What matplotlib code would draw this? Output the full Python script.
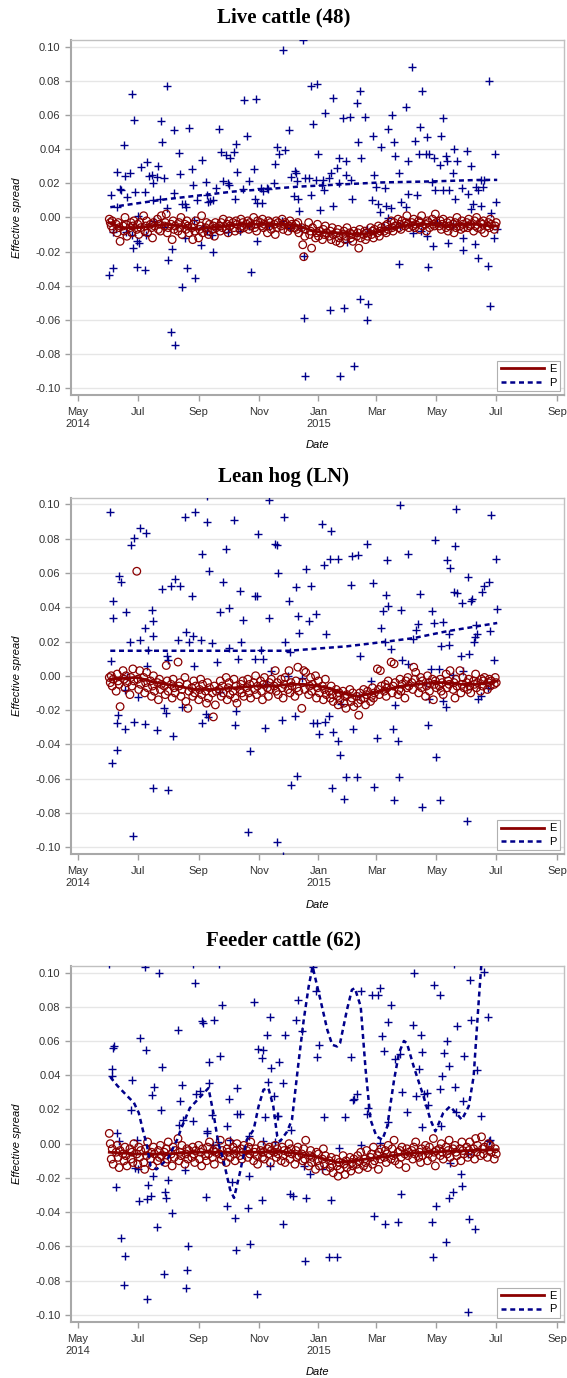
import numpy as np
import pandas as pd
import matplotlib
matplotlib.use('Agg')
import matplotlib.pyplot as plt

plt.rcParams['font.family'] = ['Liberation Sans', 'DejaVu Sans']
plt.rcParams['axes.unicode_minus'] = False

# ---- data (spreads in thousandths, P dates as days after 2014-05-01) ----
titles = ['Live cattle (48)', 'Lean hog (LN)', 'Feeder cattle (62)']

# E: one value per business day starting 2014-06-02
e1 = [-1,-3,-5,-2,-7,-4,-9,-3,-6,-14,-5,-8,0,-4,-11,-6,-3,-9,-5,-2,
      -7,-4,-10,-3,-6,1,-8,-5,-2,-9,-4,-6,-12,-3,-5,-1,-7,-4,-8,1,
      -5,-3,2,-9,-6,-4,-13,-2,-7,-5,-8,-3,-6,0,-10,-4,-7,-2,-5,-9,
      -6,-13,-4,-8,-2,-12,-7,-5,1,-9,-6,-3,-8,-10,-4,-7,-5,-11,-3,-6,
      -5,-8,-3,-6,-1,-7,-4,-9,-2,-5,-3,-6,-8,-2,-4,-7,-1,-5,-3,-6,
      -4,-2,-7,-3,-5,0,-6,-4,-8,-2,-3,-5,-1,-6,-4,-9,-2,-5,-3,-7,
      -4,-10,-2,-6,-3,-5,-1,-7,-4,-3,-8,-5,-2,-6,-4,-6,-4,-7,-3,-9,
      -6,-16,-23,-11,-7,-3,-10,-8,-18,-6,-12,-9,-4,-11,-8,-13,-7,-10,-5,-9,
      -11,-8,-13,-6,-10,-14,-9,-7,-12,-15,-10,-8,-13,-11,-6,-9,-12,-10,-14,-8,
      -11,-9,-18,-7,-12,-10,-8,-13,-9,-11,-6,-10,-8,-12,-7,-9,-5,-11,-8,-6,
      -8,-5,-9,-4,-7,-2,-6,-8,-3,-5,-1,-6,-4,-7,-2,-5,-3,1,-4,-6,
      -3,-5,-1,-6,-4,-2,-7,-3,1,-5,-4,-8,-2,-3,-6,-1,-4,-5,2,-3,
      -5,-2,-7,-4,-1,-6,-3,-8,-5,-2,-4,-9,-3,-6,0,-5,-7,-2,-4,-6,
      -3,-6,-1,-5,-4,-8,-2,-5,0,-6,-3,-7,-4,-2,-9,-5,-3,-6,-1,-4,-7,-5,-3]
e2 = [-1,-4,0,-6,-2,-9,1,-3,-5,-18,3,-2,-7,0,-4,-11,-1,-6,4,-3,
      61,-2,-8,3,-5,-1,-10,-4,2,-7,-3,-12,-6,0,-9,-4,-14,-2,-8,-5,
      -6,-11,6,-3,-9,-5,-13,-2,-7,-10,8,-6,-4,-12,-8,-1,-15,-5,-19,-9,
      -7,-12,-3,-10,-6,-14,-8,-2,-11,-5,-9,-16,-4,-13,-7,-10,-24,-6,-17,-9,
      -8,-3,-12,-6,-10,-1,-14,-7,-4,-11,-9,-2,-13,-6,-16,-8,-5,-10,-3,-12,
      -7,-2,-10,-5,-13,-4,-8,0,-11,-6,-3,-9,-14,-5,-1,-7,-12,-4,-8,-2,
      -6,3,-9,-4,-11,-2,-7,-13,-5,-1,-8,3,-10,-4,-6,-12,-3,-7,5,-9,
      -19,-4,3,-8,2,-11,-6,-1,-9,-5,0,-13,-7,-3,-10,-6,-14,-8,-2,-11,
      -9,-13,-6,-11,-15,-8,-12,-17,-10,-14,-9,-16,-12,-19,-11,-8,-15,-13,-10,-18,
      -12,-16,-23,-10,-14,-8,-13,-17,-11,-9,-15,-12,-7,-13,-10,4,-8,-11,3,-6,
      -9,-5,-12,-7,-3,8,-10,-6,7,-4,-11,-8,-2,-9,-5,-13,-3,-7,-1,-6,
      -4,-8,5,-2,2,-10,-5,-1,-7,-3,-12,-6,0,-4,-9,-2,-14,-5,-3,-7,
      -6,-2,-9,-4,-11,1,-7,-3,-5,3,-8,-4,-13,-2,-6,3,-10,-5,-1,-7,
      -4,-8,-2,-6,-10,-3,-5,1,-7,-4,-9,-2,-6,-3,-1,-8,-4,-2,-6,-3,-5,-1,-4]
e3 = [6,0,-9,-3,-12,-5,-1,-8,-14,-4,-6,-10,-2,-7,-13,-3,-9,-5,-11,0,
      -6,-12,-2,-8,-4,-11,-15,-3,-7,1,-9,-5,-13,-2,-6,-10,-4,-8,-1,-7,
      -5,-11,-3,-9,1,-6,-13,-2,-8,-4,3,-10,-5,-7,-1,-12,-6,-3,-9,-4,
      -8,-2,-6,-11,-4,-1,-9,-5,-13,-3,-7,-10,-2,-6,1,-8,-4,-12,-5,-3,
      -6,2,-9,-4,-7,-11,-3,-5,1,-8,-2,-6,-10,-4,0,-7,-3,-9,-5,-1,
      -4,-8,-2,-6,1,-10,-5,-3,-7,-12,-4,-1,-8,-5,-9,-3,-6,-2,-11,-4,
      -5,-1,-8,-3,-6,-10,-2,-7,-4,-11,-5,0,-9,-3,-6,-12,-4,-8,-2,-7,
      -6,-10,-3,-9,2,-13,-7,-4,-11,-8,-15,-5,-10,-6,-13,-9,-3,-12,-7,-16,
      -10,-14,-8,-12,-17,-9,-13,-19,-11,-15,-7,-12,-18,-10,-14,-8,-16,-11,-13,-9,
      -12,-7,-15,-10,-5,-13,-9,-11,-4,-14,-8,-6,-12,-2,-10,-7,-15,-5,-9,-3,
      -8,-4,-11,-6,-1,-9,-3,-7,2,-10,-5,-12,-4,-8,-2,-6,-14,-3,-7,-5,
      -4,-9,-2,-6,1,-8,-5,-11,-3,-7,-1,-4,-10,-6,-2,-8,3,-5,-13,-4,
      -3,-7,0,-5,-9,-2,-6,-4,2,-8,-3,-11,-1,-5,-7,-3,-10,1,-4,-6,
      -2,-8,-4,1,-6,-3,-9,3,-5,-1,-7,4,-3,-6,-2,-8,0,-4,-1,-5,-9,-3,-6]

# P: scattered points (day, value)
p1_day = [34,40,40,43,44,47,48,50,53,55,57,58,61,64,68,70,72,75,77,77,81,82,84,85,86,88,91,91,98,98,
          103,104,106,109,110,113,116,117,121,126,130,131,133,135,138,141,144,146,148,151,153,154,155,159,160,161,162,168,169,172,
          174,179,181,180,182,186,189,188,193,194,200,201,203,205,209,211,215,217,220,221,222,223,224,225,
          229,237,243,239,245,252,260,270,277,284,287,285,288,292,301,309,316,320,322,323,327,334,336,340,343,348,350,347,354,358,
          356,363,370,372,369,376,375,382,383,386,396,400,411,414,419,425,
          231,235,242,237,247,250,249,251,256,258,260,264,266,266,273,273,278,279,300,302,304,306,308,313,314,319,316,329,334,336,
          345,361,364,372,378,384,391,397,400,405,407,413,402,410,421,426,
          32,36,36,49,56,55,60,62,60,68,69,78,88,92,96,95,99,106,109,111,118,119,125,127,131,137,138,141,153,165,
          174,176,182,195,208,216,227,230,230,231,257,271,267,274,281,287,294,295,294,312,327,328,341,349,355,357,362,366,377,382,
          392,392,404,407,418,420,424,427]
p1_val = [12.9,6.4,26.7,16.6,16,42.6,24,11.7,26,72.6,57,15.2,1,29.3,15.2,32.4,24.4,25,20.3,10.3,23.8,30,10.7,56.4,44.1,23,77,5.5,14.6,51.3,
          37.5,25.6,8,7.8,6.4,52.5,28.1,19.1,10.3,33.5,20.5,13.3,9,9.8,10.3,17,51.7,38.6,21.3,36.7,20.1,19.3,34.9,38.6,10.7,43,26.7,16.6,68.9,47.8,
          21.5,28.3,69.3,10.7,8.2,17,15.6,8.2,17,16.6,20.1,31.2,41.2,37.1,98,39.6,51.3,23.8,12.5,27.1,26.3,21.5,10.7,3.5,
          104,77,78,55,37,61,70,58,59,67,74,44,35,59,48,41,52,60,44,36,26,65,33,88,45,53,74,37,37,37,
          47,35,48,58,31,33,36,26,40,33,39,30,22,22,80,37,
          23,23,22,13,4.5,22,19,16,23,26,7,29,35,20,33,25,22,11,10,25,18,8,3,17,7,5.5,-0.4,9,6,14,
          13,21,16,16,16,11,17,14,5,18,16,18,8,7,2.5,9,
          -33.5,-29.6,-8.8,-8.6,-18,-10,-14,-15,-29,-31,-10.5,-2,-5.6,-25,-18.5,-67,-74.5,-41,-12,-29.6,-1.4,-35.5,-16.4,-5.6,-8,-10.5,-20.5,-6.6,-8.8,-8,
          -4.9,-32,-14,-5,-2.3,-6.2,-6.2,-22.8,-59,-93,-54,-53,-93,-14.6,-87,-48,-6.8,-51,-60,-5.8,-27,-5.3,-9,-8,-10.7,-29,-17,-3,-15,-4.3,
          -12,-19,-15.6,-23.8,-28.7,-52,-12,-7]

p2_day = [33,34,36,36,42,44,49,53,54,57,63,63,69,68,75,76,77,71,70,86,91,92,95,99,104,102,109,110,113,116,
          117,119,118,125,126,131,132,134,137,142,145,148,151,154,154,159,165,163,166,168,180,182,180,189,183,186,195,195,197,201,
          203,204,210,211,215,216,222,224,225,
          232,235,237,242,249,251,253,257,265,258,278,279,285,287,294,301,309,311,314,315,316,313,319,328,329,330,336,336,341,344,
          346,348,361,363,364,368,360,370,378,372,376,379,378,383,386,384,385,390,391,392,397,398,400,401,403,404,406,405,412,414,
          419,420,421,424,426,427,
          35,40,40,41,48,48,50,56,57,61,68,77,81,88,90,92,97,106,126,130,133,145,160,161,173,175,191,193,203,208,
          209,214,217,221,223,228,239,244,252,246,256,259,260,265,267,268,271,273,284,280,286,298,302,305,321,323,322,326,327,350,
          354,357,358,365,369,372,375,382,396,407,410,418]
p2_val = [95.7,8.4,43.5,34,58.5,55,37,19.5,76.6,80.5,20.7,86.4,83.5,28,38.6,32,23,15,5.5,50.7,11.3,9.4,52.6,56.7,52.6,21,92.8,25.3,19.5,46.4,
          23.4,95.7,5.5,21,70.8,105,89.7,61,19,7.8,37,54.6,74,39.6,16,91,49.3,10,19.5,32.7,46.4,46.4,10,10,83,14.8,102.5,34,3,77,
          76.6,60,92.8,20,43.9,14,52,35,25,
          62.6,31.8,52.6,36,88.7,64.5,24.4,68.4,68.4,84.4,53.2,69.8,70.4,11.3,77,54.2,27.9,37.6,47.4,67.4,40.5,19.5,15.8,99.6,38.6,9.4,7,70.8,21.4,27,
          30.4,48,37.6,30.8,79,4,4,17.5,18,31.4,67.4,63,24.6,48.7,48.3,76,97.5,11.7,42.5,3,57.5,12.9,43.5,45,19.5,22.4,24.4,29.8,48.7,52.2,
          54.8,26,93.8,9.4,68.4,39,
          -50.7,-43.3,-27.7,-22.8,-31.2,-8.2,-0.8,-93.6,-26.7,-12.5,-28,-65.3,-31.6,-19,-22,-66.7,-35,-18.3,-27.7,-22.2,-23.8,-9.7,-29,-20.5,-91,-44.2,-30.2,-4.7,-96.9,-25.7,
          -105,0,-63.7,-23.2,-58.3,-1.4,-27.3,-27.7,-27.1,-34.1,-23.4,-65.7,-32.6,-38,-46.2,-16.6,-72,-58.9,-59.3,-31.2,-12,-3.3,-65,-36.5,-31.2,-17,-72.5,-38,-59.3,-76.4,
          -4.3,-28.7,-13.6,-47.6,-72.5,-15,-18.5,0.6,-84.6,-13.6,-11.7,-7.2]

p3_day = [32,35,35,36,37,40,42,54,55,60,63,68,69,75,78,83,85,86,102,103,104,106,107,117,119,120,124,126,127,117,
          131,132,134,134,137,139,144,145,147,152,154,162,162,165,174,179,183,189,187,191,193,196,197,194,200,203,204,205,209,211,
          217,222,224,
          228,239,242,244,246,251,272,278,280,281,284,288,294,295,300,306,308,310,312,316,316,319,323,328,330,335,341,342,349,350,
          347,344,355,352,357,350,363,369,369,371,373,376,378,370,384,385,386,392,393,399,400,406,410,414,418,420,383,
          39,44,48,47,58,61,62,70,71,74,70,76,81,88,89,90,92,96,109,112,111,110,130,152,157,160,161,173,175,174,
          182,187,196,209,216,219,
          230,236,232,231,249,258,256,264,302,313,326,329,361,362,365,375,378,382,379,390,391,397,398,404,397,419,
          138,143,155,189,201,308,288,266]
p3_val = [105,39.3,43.8,55.8,56.8,6.2,1.4,19.8,37,2.3,61.7,103,54.9,28.2,33,100,19.5,44.6,66.5,11,24.7,34,14,105,93.8,29,31,71.8,70.8,13,
          7.2,6.2,47.5,35.4,17,72.4,105,51,81,10.5,26.3,32.5,17.5,17.5,4.7,82.5,55.3,54.9,50,15.6,63.6,74,44.2,36,27.6,16,16,47.5,35.4,63.6,
          8.2,72.4,84,
          66,103.5,89,50.4,57.8,15.6,15.6,50.6,25.7,26.3,29,89.5,17.5,20.8,87,87,91,63.2,54.3,71,12.6,81,49.4,52.3,30,18.5,69.5,100,63.6,53.5,
          43.8,28,29.6,29,22.8,9.7,92.8,87,31.9,39.3,53,60,45.5,10.5,33,18.3,68.5,25,51.4,95.7,72,43.2,16,100.6,74.3,2.3,105,
          -25.3,-55,-65.4,-82.3,-14.2,-14.8,-33.7,-32.3,-23.9,-30.4,-91,-18.7,-48.8,-76,-28.4,-31.7,-21.4,-40.5,-15.2,-60,-74,-84.2,-31.3,-36.2,-22.6,-43.4,-61.9,-37.6,-58.9,-18.7,
          -87.6,-32.7,-13.2,-46.9,-29.2,-30.7,
          -12.8,-17.7,-31.7,-68.3,-14.6,-32.7,-66.4,-66.4,-42.4,-46.9,-45.7,-29.4,-45.9,-66.4,-36.2,-57.4,-31.7,-28.4,-11.3,-17.7,-24.5,-98.5,-43.8,-49.8,-6,1.4,
          -0.6,1,2.3,1.4,1,0.4,-0.6,-2.5]

# fitted curves (day, value)
e1_fit_day = [32,45,60,75,90,105,120,135,150,165,180,195,210,225,240,255,270,285,300,315,330,345,360,375,390,405,420,427]
e1_fit_val = [-3,-6,-6,-5,-4,-5,-7,-6,-5,-4,-4,-4,-4,-5,-8,-9,-9,-10,-9,-7,-5,-4,-4,-5,-4,-4,-5,-5]
p1_fit_day = [33,90,159,226,308,359,410,427]
p1_fit_val = [6,10.7,15.2,18.1,20.5,21.1,22,22]

e2_fit_day = [33,60,80,100,120,140,160,180,200,215,230,245,260,275,285,300,315,330,345,360,375,390,405,420,427]
e2_fit_val = [-2,-1,-4,-6,-8,-8,-7,-6,-6,-5,-5,-6,-8,-11,-12,-10,-8,-6,-5,-4,-4,-5,-5,-4,-3]
p2_fit_day = [33,100,215,274,315,342,376,427]
p2_fit_val = [14.6,14.6,14.6,17.2,20,22,26,30.8]

e3_fit_day = [32,60,90,120,150,180,206,225,240,255,266,280,301,320,342,376,400,427]
e3_fit_val = [-5,-6,-6,-5,-5,-5,-4.5,-6,-7.4,-9.5,-11,-10,-8.4,-7,-5.4,-4.5,-4,-3.5]
p3_fit_day = [33,40,50,57,62,67,70,74,80,84,92,101,106,114,125,133,138,143,148,155,159,165,172,179,184,189,194,199,203,206,
              213,218,225,230,235,239,247,254,259,264,267,274,279,282,288,293,298,304,310,315,322,327,332,335,342,352,359,364,372,379,
              388,391,398,403,408,411]
p3_fit_val = [39,34,28,24,18,6,0,-13,-15,-13,-8.4,2.3,10,20.8,27.6,32.5,17.9,0.4,-9.3,-26.8,-31.7,-17,2.3,8.2,21.8,31.5,32.5,21.8,4.3,1.4,
              7,14,49,72.4,91.8,103.5,84,66.5,57.8,56.8,58.8,78.2,89.9,90.9,80.2,43.2,14,4.3,2.3,10,37.4,53,60,58.8,45,27.6,14,7.2,17.9,21.8,
              16,14,21.8,39.3,82,106]

tick_dates = ['2014-05-01','2014-07-01','2014-09-01','2014-11-01','2015-01-01',
              '2015-03-01','2015-05-01','2015-07-01','2015-09-01']
tick_labels = ['May\n2014','Jul','Sep','Nov','Jan\n2015','Mar','May','Jul','Sep']

# ---- plotting ----
base = pd.Timestamp('2014-05-01')
def to_dates(days):
    return base + pd.to_timedelta(np.array(days, dtype=float), unit='D')

red = '#8b0000'
navy = '#00008b'

fig = plt.figure(figsize=(5.67, 13.78), dpi=100)
rects = [[0.1252, 0.7134, 0.8695, 0.2576],
         [0.1252, 0.3803, 0.8695, 0.2586],
         [0.1252, 0.0409, 0.8695, 0.2583]]
title_y = [1 - 17/1378, 1 - 477/1378, 1 - 940/1378]

panels = [(e1, p1_day, p1_val, e1_fit_day, e1_fit_val, p1_fit_day, p1_fit_val),
          (e2, p2_day, p2_val, e2_fit_day, e2_fit_val, p2_fit_day, p2_fit_val),
          (e3, p3_day, p3_val, e3_fit_day, e3_fit_val, p3_fit_day, p3_fit_val)]

for i, (e, pd_, pv, efd, efv, pfd, pfv) in enumerate(panels):
    ax = fig.add_axes(rects[i])
    e_dates = pd.bdate_range('2014-06-02', periods=len(e))

    ax.scatter(to_dates(pd_), np.array(pv) / 1000, marker='+', s=30, color=navy,
               linewidths=1.0, zorder=3)
    ax.scatter(e_dates, np.array(e) / 1000, marker='o', s=30, facecolors='none',
               edgecolors=red, linewidths=0.9, zorder=4)
    le, = ax.plot(to_dates(efd), np.array(efv) / 1000, color=red, lw=2.0, zorder=5)
    lp, = ax.plot(to_dates(pfd), np.array(pfv) / 1000, color=navy, lw=1.8,
                  dashes=(2.0, 1.5), zorder=5)

    ax.set_xlim(pd.Timestamp('2014-04-24'), pd.Timestamp('2015-09-08'))
    ax.set_ylim(-0.104, 0.104)
    ax.set_yticks(np.arange(-0.10, 0.101, 0.02))
    ax.set_yticklabels(['%.2f' % v for v in np.arange(-0.10, 0.101, 0.02)])
    ax.set_xticks(pd.to_datetime(tick_dates))
    ax.set_xticklabels(tick_labels)
    ax.tick_params(labelsize=8, colors='#333333', length=4, width=1)
    ax.tick_params(axis='both', color='#a0a0a0')
    ax.tick_params(axis='x', pad=5)
    ax.grid(axis='y', color='#e6e6e6', lw=1)
    ax.set_axisbelow(True)
    for side in ['left', 'bottom']:
        ax.spines[side].set_color('#a8a8a8')
        ax.spines[side].set_linewidth(1.5)
    for side in ['top', 'right']:
        ax.spines[side].set_color('#c0c0c0')
        ax.spines[side].set_linewidth(1.0)

    ax.set_ylabel('Effective spread', fontsize=8, style='italic')
    ax.yaxis.set_label_coords(-0.10, 0.5)
    ax.set_xlabel('Date', fontsize=8, style='italic')
    ax.xaxis.set_label_coords(0.5, -0.128)

    leg = ax.legend([le, lp], ['E', 'P'], loc='lower right', fontsize=8,
                    handlelength=3.9, fancybox=False, framealpha=1,
                    borderaxespad=0.35, borderpad=0.3, labelspacing=0.3,
                    handletextpad=0.5)
    leg.get_frame().set_edgecolor('#b0b0b0')
    leg.get_frame().set_linewidth(0.8)

    fig.text(0.5, title_y[i], titles[i], ha='center', va='center',
             family='Liberation Serif', weight='bold', fontsize=15)

fig.savefig('out.png', dpi=100)
